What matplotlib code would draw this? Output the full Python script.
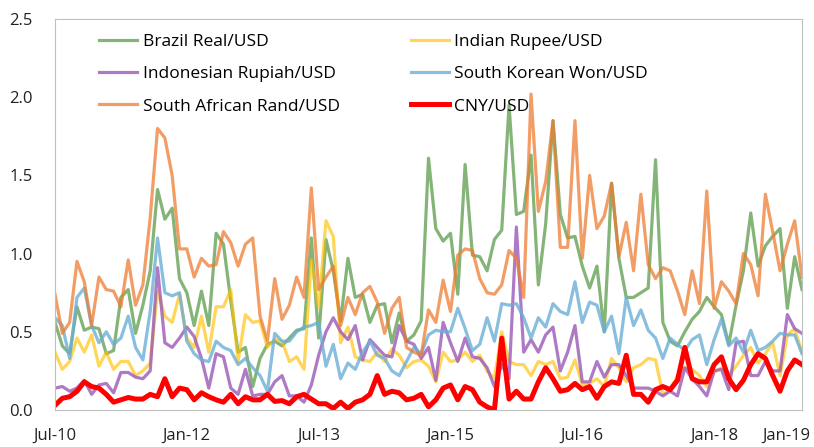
import numpy as np
import matplotlib
matplotlib.use("Agg")
import matplotlib.pyplot as plt

plt.rcParams['font.family'] = ['Open Sans', 'DejaVu Sans']

# monthly, Jul-10 .. Jan-19
brazil = [0.56, 0.41, 0.36, 0.66, 0.51, 0.53, 0.52, 0.36, 0.38, 0.72, 0.77, 0.49, 0.67, 0.89, 1.41, 1.22, 1.29, 0.84, 0.75, 0.54, 0.76,
          0.54, 1.13, 1.06, 0.70, 0.37, 0.40, 0.15, 0.33, 0.42, 0.44, 0.41, 0.46, 0.51, 0.52, 1.10, 0.46, 1.09, 0.89, 0.57, 0.97,
          0.72, 0.74, 0.56, 0.67, 0.68, 0.43, 0.62, 0.44, 0.48, 0.57, 1.61, 1.16, 1.08, 1.13, 0.74, 1.57, 0.99, 0.98, 0.89, 1.09,
          1.15, 1.95, 1.25, 1.27, 1.63, 0.80, 1.19, 1.85, 1.25, 1.10, 1.11, 0.92, 0.78, 0.92, 0.50, 1.45, 0.97, 0.72, 0.72, 0.75, 0.78,
          1.60, 0.56, 0.44, 0.41, 0.50, 0.58, 0.63, 0.72, 0.66, 0.61, 0.42, 0.67, 0.89, 1.26, 0.92, 1.05, 1.11, 1.16, 0.65, 0.98, 0.77]
india = [0.37, 0.26, 0.31, 0.46, 0.37, 0.48, 0.28, 0.37, 0.26, 0.31, 0.31, 0.22, 0.25, 0.30, 0.76, 0.60, 0.56, 0.74, 0.46, 0.40, 0.60,
         0.37, 0.66, 0.66, 0.77, 0.31, 0.61, 0.56, 0.57, 0.40, 0.45, 0.44, 0.31, 0.34, 0.26, 0.96, 0.65, 1.21, 1.11, 0.43, 0.53,
         0.34, 0.32, 0.31, 0.37, 0.31, 0.39, 0.35, 0.27, 0.31, 0.32, 0.28, 0.18, 0.37, 0.31, 0.32, 0.37, 0.31, 0.35, 0.25, 0.20,
         0.50, 0.31, 0.29, 0.29, 0.22, 0.31, 0.29, 0.31, 0.20, 0.21, 0.32, 0.16, 0.17, 0.20, 0.15, 0.33, 0.27, 0.18, 0.27, 0.29, 0.33,
         0.32, 0.10, 0.13, 0.22, 0.27, 0.26, 0.22, 0.15, 0.24, 0.27, 0.22, 0.28, 0.35, 0.40, 0.30, 0.36, 0.43, 0.22, 0.48, 0.52, 0.37]
indonesia = [0.14, 0.15, 0.12, 0.14, 0.19, 0.10, 0.16, 0.17, 0.11, 0.24, 0.24, 0.21, 0.20, 0.25, 0.91, 0.43, 0.40, 0.46, 0.53, 0.47, 0.33,
             0.14, 0.36, 0.34, 0.14, 0.10, 0.26, 0.09, 0.10, 0.10, 0.18, 0.22, 0.09, 0.09, 0.05, 0.16, 0.35, 0.50, 0.59, 0.50, 0.45,
             0.54, 0.32, 0.45, 0.40, 0.35, 0.34, 0.54, 0.44, 0.42, 0.33, 0.40, 0.19, 0.56, 0.43, 0.31, 0.46, 0.34, 0.33, 0.27, 0.15,
             0.29, 0.20, 1.17, 0.37, 0.45, 0.37, 0.48, 0.53, 0.25, 0.37, 0.54, 0.18, 0.18, 0.31, 0.21, 0.29, 0.29, 0.22, 0.14, 0.14, 0.14,
             0.12, 0.09, 0.12, 0.09, 0.27, 0.20, 0.15, 0.09, 0.25, 0.26, 0.13, 0.43, 0.44, 0.22, 0.22, 0.31, 0.25, 0.25, 0.61, 0.52, 0.49]
korea = [0.59, 0.54, 0.33, 0.72, 0.78, 0.54, 0.43, 0.50, 0.42, 0.46, 0.60, 0.40, 0.32, 0.63, 1.10, 0.75, 0.73, 0.75, 0.44, 0.36, 0.32,
         0.31, 0.44, 0.40, 0.38, 0.29, 0.33, 0.27, 0.22, 0.12, 0.49, 0.44, 0.44, 0.50, 0.53, 0.54, 0.56, 0.28, 0.42, 0.20, 0.30,
         0.26, 0.37, 0.44, 0.35, 0.33, 0.25, 0.22, 0.31, 0.40, 0.36, 0.48, 0.51, 0.50, 0.50, 0.65, 0.52, 0.38, 0.42, 0.59, 0.44,
         0.68, 0.67, 0.68, 0.59, 0.46, 0.59, 0.53, 0.68, 0.63, 0.61, 0.82, 0.56, 0.69, 0.67, 0.50, 0.60, 0.36, 0.72, 0.54, 0.64, 0.51,
         0.46, 0.33, 0.46, 0.42, 0.38, 0.45, 0.48, 0.29, 0.45, 0.58, 0.41, 0.46, 0.37, 0.51, 0.38, 0.40, 0.44, 0.49, 0.48, 0.48, 0.36]
safrica = [0.74, 0.49, 0.56, 0.95, 0.82, 0.54, 0.85, 0.77, 0.76, 0.66, 0.96, 0.67, 0.80, 1.23, 1.80, 1.74, 1.50, 1.03, 1.03, 0.85, 0.97,
           0.92, 0.93, 1.14, 1.07, 0.92, 1.06, 1.10, 0.60, 0.44, 0.84, 0.58, 0.67, 0.85, 0.72, 1.42, 0.77, 0.85, 0.92, 0.54, 0.72,
           0.61, 0.75, 0.79, 0.69, 0.49, 0.65, 0.72, 0.40, 0.37, 0.35, 0.64, 0.56, 0.83, 0.63, 0.99, 1.03, 1.02, 0.84, 0.75, 0.74,
           0.80, 1.02, 0.97, 0.72, 2.02, 1.27, 1.46, 1.85, 1.04, 1.04, 1.85, 0.97, 1.50, 1.16, 1.24, 1.45, 0.98, 1.20, 0.89, 1.38, 0.93,
           0.84, 0.91, 0.89, 0.76, 0.61, 0.89, 0.68, 1.40, 0.65, 0.82, 0.76, 0.68, 1.00, 0.93, 0.73, 1.38, 1.14, 0.89, 1.06, 1.21, 0.85]
cny = [0.03, 0.075, 0.085, 0.12, 0.18, 0.15, 0.14, 0.10, 0.05, 0.065, 0.08, 0.07, 0.07, 0.10, 0.085, 0.20, 0.085, 0.14, 0.13, 0.065, 0.11,
       0.085, 0.065, 0.05, 0.10, 0.04, 0.085, 0.065, 0.065, 0.10, 0.055, 0.06, 0.04, 0.085, 0.10, 0.07, 0.04, 0.04, 0.01, 0.05, 0.01,
       0.05, 0.065, 0.10, 0.22, 0.10, 0.12, 0.11, 0.065, 0.075, 0.10, 0.02, 0.065, 0.14, 0.16, 0.065, 0.15, 0.13, 0.05, 0.02, 0.0,
       0.46, 0.07, 0.12, 0.07, 0.07, 0.18, 0.27, 0.20, 0.12, 0.13, 0.17, 0.13, 0.15, 0.075, 0.15, 0.18, 0.17, 0.35, 0.10, 0.10, 0.05,
       0.13, 0.15, 0.13, 0.19, 0.40, 0.20, 0.18, 0.18, 0.29, 0.34, 0.20, 0.13, 0.19, 0.29, 0.36, 0.33, 0.22, 0.12, 0.25, 0.32, 0.29]

tick_pos = [0, 18, 36, 54, 72, 90, 99.8]
tick_labels = ['Jul-10', 'Jan-12', 'Jul-13', 'Jan-15', 'Jul-16', 'Jan-18', 'Jan-19']

x = np.arange(len(cny))

fig = plt.figure(figsize=(8.14, 4.47), dpi=100)
ax = fig.add_axes([55/814, 1-410/447, 747/814, 391/447])

lb, = ax.plot(x, brazil, color='#5B9B4A', alpha=0.75, lw=2.3, label='Brazil Real/USD')
li, = ax.plot(x, india, color='#FFC000', alpha=0.65, lw=2.3, label='Indian Rupee/USD')
ln, = ax.plot(x, indonesia, color='#9B59B6', alpha=0.8, lw=2.3, label='Indonesian Rupiah/USD')
lk, = ax.plot(x, korea, color='#6BAED6', alpha=0.8, lw=2.3, label='South Korean Won/USD')
ls, = ax.plot(x, safrica, color='#ED7D31', alpha=0.75, lw=2.3, label='South African Rand/USD')
lc, = ax.plot(x, cny, color='#FF0000', lw=3.6, label='CNY/USD')

ax.set_xlim(0, len(cny) - 1)
ax.set_ylim(0, 2.5)
ax.set_yticks([0, 0.5, 1.0, 1.5, 2.0, 2.5])
ax.set_yticklabels(['0.0', '0.5', '1.0', '1.5', '2.0', '2.5'])
ax.set_xticks(tick_pos)
ax.set_xticklabels(tick_labels)
ax.tick_params(axis='both', length=0, labelsize=12, colors='#222222')
ax.tick_params(axis='x', pad=13)
ax.tick_params(axis='y', pad=16)
for s in ax.spines.values():
    s.set_color('#BFBFBF')
    s.set_linewidth(0.8)

# legend filled column-wise, so order gives the row-wise look of the original
order = [lb, ln, ls, li, lk, lc]
ax.legend(order, [h.get_label() for h in order],
          ncol=2, frameon=False, loc='upper left', bbox_to_anchor=(0.05, 0.98),
          fontsize=12.5, handlelength=2.2, handletextpad=0.3,
          columnspacing=4.1, labelspacing=0.93, borderaxespad=0)

plt.savefig('out.png', dpi=100)
